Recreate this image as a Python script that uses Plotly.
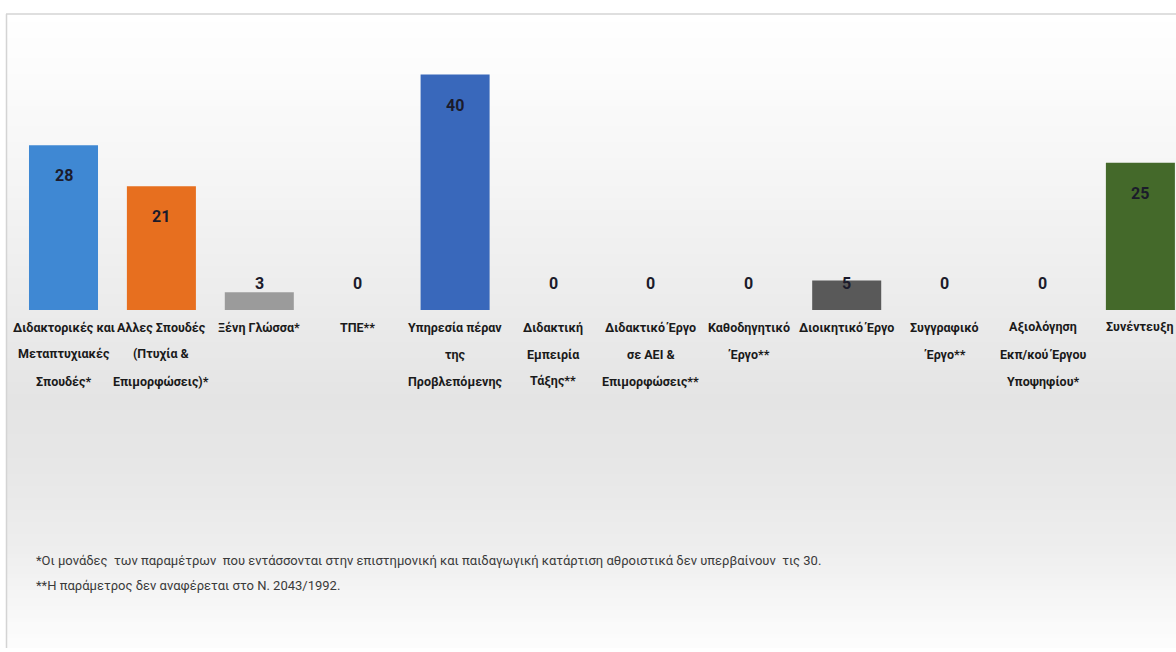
import plotly.graph_objects as go

# ---- data ----
category_lines = [
    ["Διδακτορικές και", "Μεταπτυχιακές", "Σπουδές*"],
    ["Αλλες Σπουδές", "(Πτυχία &", "Επιμορφώσεις)*"],
    ["Ξένη Γλώσσα*"],
    ["ΤΠΕ**"],
    ["Υπηρεσία πέραν", "της", "Προβλεπόμενης"],
    ["Διδακτική", "Εμπειρία", "Τάξης**"],
    ["Διδακτικό Έργο", "σε ΑΕΙ &", "Επιμορφώσεις**"],
    ["Καθοδηγητικό", "Έργο**"],
    ["Διοικητικό Έργο"],
    ["Συγγραφικό", "Έργο**"],
    ["Αξιολόγηση", "Εκπ/κού Έργου", "Υποψηφίου*"],
    ["Συνέντευξη"],
]
categories = [" ".join(l) for l in category_lines]
values = [28, 21, 3, 0, 40, 0, 0, 0, 5, 0, 0, 25]
bar_colors = ["#3f88d3", "#e76f1f", "#9b9b9b", "#f0b400", "#3968bb", "#63a040",
              "#255e91", "#9e480e", "#595959", "#997300", "#264478", "#44692a"]
footnotes = [
    "*Οι μονάδες  των παραμέτρων  που εντάσσονται στην επιστημονική και παιδαγωγική κατάρτιση αθροιστικά δεν υπερβαίνουν  τις 30.",
    "**Η παράμετρος δεν αναφέρεται στο Ν. 2043/1992.",
]

# ---- layout geometry (pixels) ----
OFF = 0
W, H = 1176, 648
ML, MR, MT, MB = 14, 0, 20, H - 310
PW = W - ML - MR
PH = H - MT - MB
UNIT = 235.5 / 40.0          # px per value unit
YMAX = PH / UNIT
SPACING = 97.9
X0 = -(63.5 - OFF - ML) / SPACING
X1 = X0 + PW / SPACING

def px2x(px):                # window px -> paper x
    return (px - OFF - ML) / PW

def px2y(py):                # window px -> paper y
    return (H - MB - (py - OFF)) / PH

FONT = "Roboto, Liberation Sans, sans-serif"

fig = go.Figure()
fig.add_trace(go.Bar(
    x=categories, y=values,
    marker=dict(color=bar_colors, line=dict(width=0)),
    hoverinfo="x+y",
))

shapes = []
stops = [(14, 255), (150, 247), (300, 236), (400, 228), (470, 231), (550, 238), (620, 249), (652, 253)]
def shade(py):
    for (a, ca), (b, cb) in zip(stops, stops[1:]):
        if a <= py <= b:
            t = (py - a) / (b - a)
            return round(ca + (cb - ca) * t)
    return stops[-1][1]

step = 4
py = 14
while py < OFF + H:
    c = shade(py + step / 2)
    shapes.append(dict(type="rect", xref="paper", yref="paper",
                       x0=px2x(6), x1=px2x(1176), y0=px2y(py + step + 0.5), y1=px2y(py),
                       fillcolor=f"rgb({c},{c},{c})", line=dict(width=0), layer="below"))
    py += step
shapes.append(dict(type="line", xref="paper", yref="paper", x0=px2x(6), x1=px2x(1176),
                   y0=px2y(14), y1=px2y(14), line=dict(color="#d4d4d4", width=1.5), layer="below"))
shapes.append(dict(type="line", xref="paper", yref="paper", x0=px2x(6.5), x1=px2x(6.5),
                   y0=px2y(14), y1=px2y(OFF + H), line=dict(color="#d4d4d4", width=1.5), layer="below"))

annotations = []
for cat, v in zip(categories, values):
    annotations.append(dict(x=cat, y=max(v - 5.2, 4.5), xref="x", yref="y",
                            text=str(v), showarrow=False,
                            font=dict(family=FONT, size=16, color="#1b1b2b", weight="bold"),
                            xanchor="center", yanchor="middle"))
for cat, lines in zip(categories, category_lines):
    for i, line in enumerate(lines):
        annotations.append(dict(x=cat, y=px2y(327 + i * 27), xref="x", yref="paper",
                                text=line, showarrow=False,
                                font=dict(family=FONT, size=12.5, color="#1a1a1a", weight="bold"),
                                xanchor="center", yanchor="middle"))
for i, t in enumerate(footnotes):
    annotations.append(dict(x=px2x(34), y=px2y(560 + i * 25), xref="paper", yref="paper",
                            text=t, showarrow=False, xanchor="left", yanchor="middle",
                            font=dict(family=FONT, size=13, color="#3a3a3a")))

fig.update_layout(
    width=W, height=H,
    margin=dict(l=ML, r=MR, t=MT, b=MB, pad=0),
    paper_bgcolor="white",
    plot_bgcolor="rgba(0,0,0,0)",
    bargap=0.295,
    showlegend=False,
    shapes=shapes,
    annotations=annotations,
    xaxis=dict(range=[X0, X1], showticklabels=False, showgrid=False, zeroline=False,
               showline=False, ticks="", fixedrange=True),
    yaxis=dict(range=[0, YMAX], visible=False, showgrid=False, zeroline=False, fixedrange=True),
)

fig.write_html("out.html", config={"displayModeBar": False},
               post_script="document.body.style.margin='0';document.body.style.overflow='hidden';")
